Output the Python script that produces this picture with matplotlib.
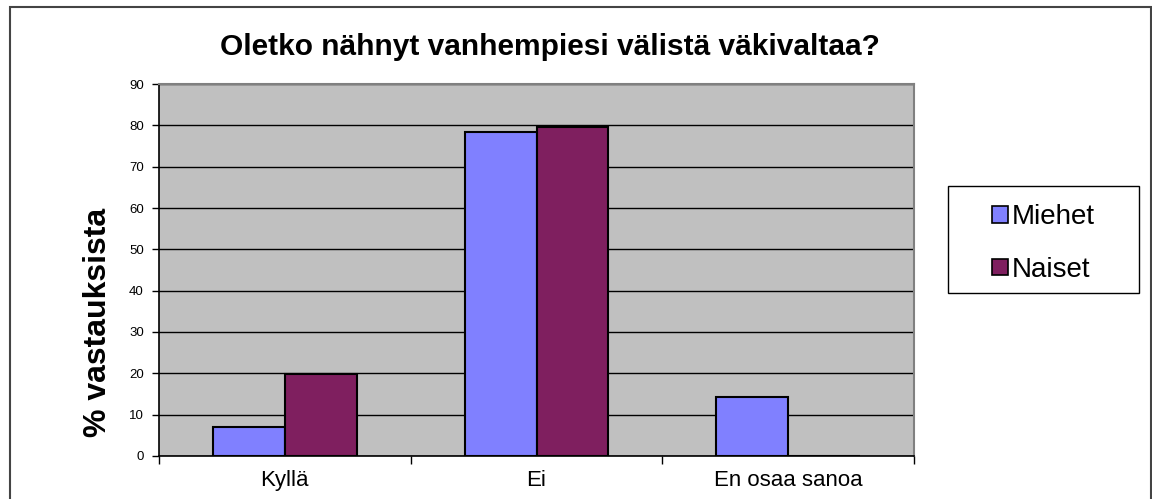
import matplotlib
matplotlib.use("Agg")
import matplotlib.pyplot as plt
from matplotlib.patches import Rectangle
import numpy as np

categories = ["Kyllä", "Ei", "En osaa sanoa"]
series_names = ["Miehet", "Naiset"]
miehet = [7.0, 78.5, 14.3]
naiset = [19.8, 79.7, 0.0]
title = "Oletko nähnyt vanhempiesi välistä väkivaltaa?"
ylabel = "% vastauksista"

plt.rcParams['font.family'] = ['Liberation Sans', 'DejaVu Sans']

W, H = 1152, 499
fig = plt.figure(figsize=(W / 100, H / 100), dpi=100)
fig.patch.set_facecolor("white")

# outer chart frame
frame = Rectangle((10 / W, -0.1), (1151 - 10) / W, 1.1 - 7 / H, transform=fig.transFigure,
                  fill=False, edgecolor="#444444", linewidth=1.5, clip_on=False)
fig.patches.append(frame)

left, right, top, bottom = 159, 914, 84, 456
ax = fig.add_axes([left / W, 1 - bottom / H, (right - left) / W, (bottom - top) / H])
ax.set_facecolor("#c0c0c0")

x = np.arange(len(categories))
bw = 1 / 3.5
ax.bar(x - bw / 2, miehet, width=bw, color="#8080ff", edgecolor="black", linewidth=1.5,
       label=series_names[0], zorder=3)
ax.bar(x + bw / 2, naiset, width=bw, color="#7f1f5f", edgecolor="black", linewidth=1.5,
       label=series_names[1], zorder=3)

ax.set_xlim(-0.5, len(categories) - 0.5)
ax.set_ylim(0, 90)
ax.set_yticks(np.arange(0, 91, 10))
ax.yaxis.grid(True, color="black", linewidth=1, zorder=1)
ax.set_axisbelow(True)

ax.set_xticks(x)
ax.set_xticklabels(categories, fontsize=16)
ax.tick_params(axis='x', length=0, pad=10)
ax.set_xticks(np.arange(-0.5, len(categories) + 0.5, 1), minor=True)
ax.tick_params(axis='x', which='minor', length=6, width=1, color="black", direction='out')
ax.tick_params(axis='y', labelsize=9.5, length=5, width=1, direction='out', pad=6)

for s in ["top", "right"]:
    ax.spines[s].set_color("#808080")
    ax.spines[s].set_linewidth(1.5)
for s in ["left", "bottom"]:
    ax.spines[s].set_color("black")
    ax.spines[s].set_linewidth(1.2)

fig.text(98 / W, 1 - 322 / H, ylabel, fontsize=23, fontweight="bold", rotation=90,
         ha="center", va="center")
fig.text(550 / W, 1 - 47 / H, title, fontsize=21.5, fontweight="bold", ha="center", va="center")

# legend box frame
lx0, lx1, ly0, ly1 = 948, 1139, 186, 293
fig.patches.append(Rectangle((lx0 / W, 1 - ly1 / H), (lx1 - lx0) / W, (ly1 - ly0) / H,
                             transform=fig.transFigure, fill=False, edgecolor="black",
                             linewidth=1, zorder=5))
leg = ax.legend(loc="center", bbox_to_anchor=((lx0 + lx1) / 2 / W, 1 - (ly0 + ly1 + 8) / 2 / H),
                bbox_transform=fig.transFigure, fontsize=20, frameon=False,
                handlelength=0.55, handleheight=0.55, handletextpad=0.15, labelspacing=0.95,
                borderpad=0.0, borderaxespad=0)
for h in leg.legend_handles:
    h.set_linewidth(1.2)

fig.savefig("out.png", dpi=100)
